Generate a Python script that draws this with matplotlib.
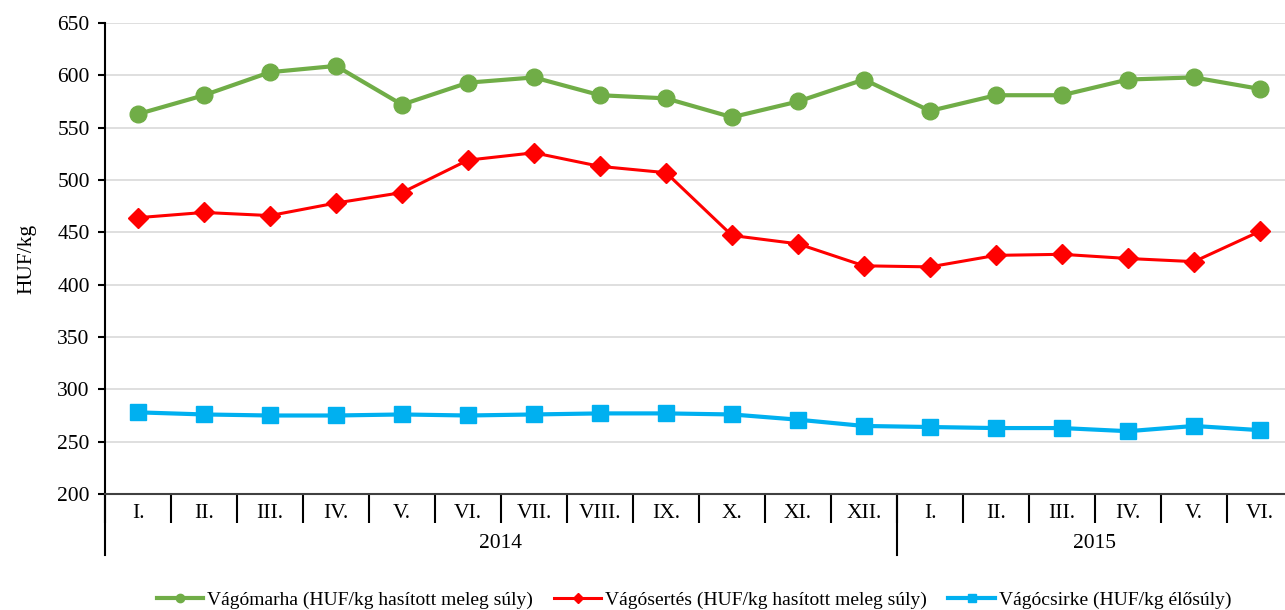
import matplotlib.pyplot as plt
import matplotlib.transforms as mtrans

plt.rcParams['font.family'] = ['Liberation Serif', 'DejaVu Serif']

months = ["I.", "II.", "III.", "IV.", "V.", "VI.", "VII.", "VIII.", "IX.", "X.", "XI.", "XII.",
          "I.", "II.", "III.", "IV.", "V.", "VI."]
years = ["2014", "2015"]
year_len = [12, 6]

marha = [563, 581, 603, 609, 572, 593, 598, 581, 578, 560, 575, 596,
         566, 581, 581, 596, 598, 587]
sertes = [464, 469, 466, 478, 488, 519, 526, 513, 507, 447, 439, 418,
          417, 428, 429, 425, 422, 451]
csirke = [278, 276, 275, 275, 276, 275, 276, 277, 277, 276, 271, 265,
          264, 263, 263, 260, 265, 261]

labels = ["Vágómarha (HUF/kg hasított meleg súly)",
          "Vágósertés (HUF/kg hasított meleg súly)",
          "Vágócsirke (HUF/kg élősúly)"]

fs = 15.5

fig = plt.figure(figsize=(12.85, 6.10), dpi=100)
ax = fig.add_axes([105/1285, 116/610, 1188/1285, 471/610])

x = list(range(len(months)))
ax.plot(x, marha, color="#70ad47", lw=3, marker="o", ms=12, label=labels[0], zorder=3)
ax.plot(x, sertes, color="#ff0000", lw=2.2, marker="D", ms=10, label=labels[1], zorder=3)
ax.plot(x, csirke, color="#00b0f0", lw=3, marker="s", ms=12, label=labels[2], zorder=3)

ax.set_ylim(200, 650)
ax.set_yticks(range(200, 651, 50))
ax.set_xlim(-0.5, len(months) - 0.5)
ax.yaxis.grid(True, color="#d9d9d9", lw=1.2)
ax.set_axisbelow(True)
for s in ["top", "right"]:
    ax.spines[s].set_visible(False)
ax.spines["left"].set_color("black")
ax.spines["left"].set_linewidth(1.5)
ax.spines["bottom"].set_color("#404040")
ax.spines["bottom"].set_linewidth(1.5)
ax.tick_params(axis="y", labelsize=fs, length=5, width=1.5, pad=6)

# month boundaries as major ticks, month names as minor tick labels
ax.set_xticks([i - 0.5 for i in range(len(months) + 1)])
ax.set_xticklabels([])
ax.tick_params(axis="x", which="major", direction="out", length=21, width=1.5)
ax.set_xticks(x, minor=True)
ax.set_xticklabels(months, minor=True)
ax.tick_params(axis="x", which="minor", length=0, labelsize=fs, pad=7)

# year level
trans = mtrans.blended_transform_factory(ax.transData, ax.transAxes)
start = -0.5
for yr, n in zip(years, year_len):
    ax.plot([start, start], [0, -61/471], color="black", lw=1.5, transform=trans, clip_on=False)
    ax.text(start + n / 2, -50/471, yr, transform=trans, ha="center", va="center", fontsize=fs)
    start += n

ax.set_ylabel("HUF/kg", fontsize=fs, labelpad=15)

fig.legend(loc="center", bbox_to_anchor=(0.54, 10/610), ncol=3, frameon=False,
           fontsize=14, markerscale=0.5, handlelength=2.4, handletextpad=0.2,
           columnspacing=1.1)

fig.savefig("out.png", dpi=100)
